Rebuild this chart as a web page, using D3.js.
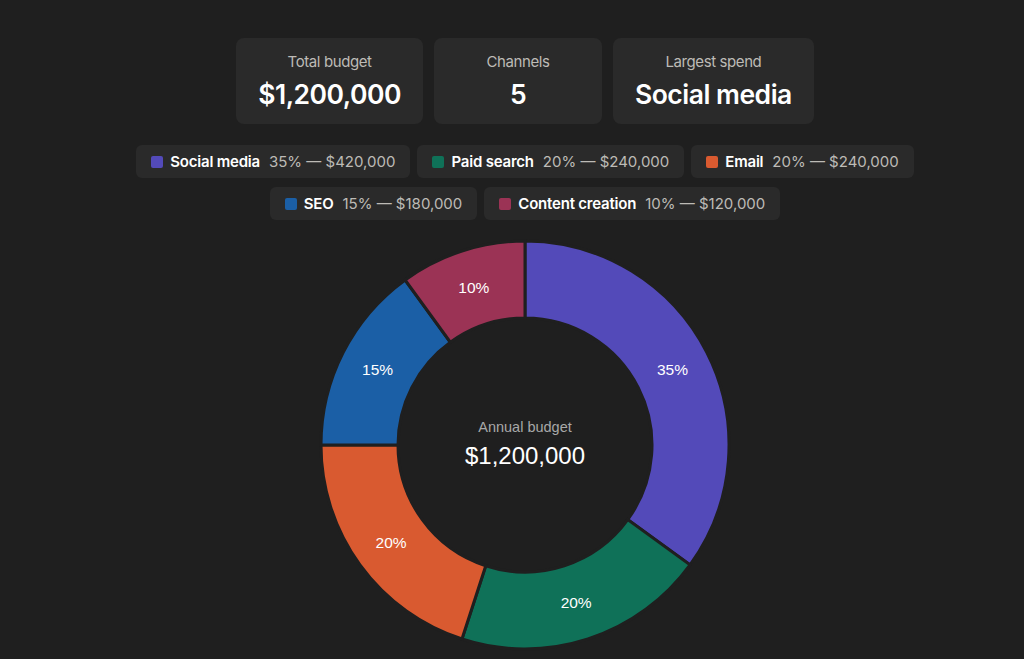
<!DOCTYPE html>
<html>
<head>
<meta charset="utf-8">
<script src="https://cdn.jsdelivr.net/npm/d3@7"></script>
<style>
  html, body { margin: 0; padding: 0; background: #1f1f1f; }
  body { width: 1024px; height: 659px; overflow: hidden; position: relative; font-family: Inter, "Noto Sans", sans-serif; }
  .cards { position: absolute; top: 38px; left: 0; width: 1050px; display: flex; justify-content: center; gap: 11px; }
  .card { background: #2a2a2a; border-radius: 8px; height: 86px; min-width: 168px; padding: 0 22px; box-sizing: border-box; text-align: center; }
  .card .lbl { color: #bdbbb6; font-size: 15px; margin-top: 15px; line-height: 18px; letter-spacing: -0.4px; }
  .card .val { color: #fff; font-size: 26.5px; font-weight: 600; margin-top: 7px; line-height: 32px; letter-spacing: -0.5px; }
  .legend { position: absolute; top: 145px; left: 0; width: 1050px; }
  .row { display: flex; justify-content: center; gap: 7px; margin-bottom: 9px; }
  .pill { background: #2a2a2a; border-radius: 6px; height: 33px; display: flex; align-items: center; padding: 0 15px; font-size: 15px; }
  .sw { width: 12px; height: 12px; border-radius: 2px; margin-right: 7px; }
  .nm { color: #fff; font-weight: 600; margin-right: 9px; letter-spacing: -0.2px; }
  .pv { color: #bdbbb6; }
  svg { position: absolute; top: 0; left: 0; }
</style>
</head>
<body>
<div class="cards"></div>
<div class="legend"></div>
<svg width="1024" height="659"></svg>
<script>
const channels = ['Social media', 'Paid search', 'Email', 'SEO', 'Content creation']
const amounts = [420000, 240000, 240000, 180000, 120000]
const colors = ['#534ab9', '#0f7158', '#d95a30', '#1b5fa6', '#9b3355']
const cardLabels = ['Total budget', 'Channels', 'Largest spend']

const total = d3.sum(amounts)
const money = d3.format('$,')
const pct = v => Math.round(v / total * 100) + '%'
const data = channels.map((name, i) => ({ name, amount: amounts[i], color: colors[i] }))
const largest = data[d3.maxIndex(amounts)].name

// summary cards
const cardValues = [money(total), String(channels.length), largest]
const cards = d3.select('.cards').selectAll('.card')
  .data(cardLabels.map((l, i) => ({ label: l, value: cardValues[i] })))
  .join('div')
  .attr('class', 'card')
cards.append('div').attr('class', 'lbl').text(d => d.label)
cards.append('div').attr('class', 'val').text(d => d.value)

// legend, 3 + 2
const rows = [data.slice(0, 3), data.slice(3)]
const rowSel = d3.select('.legend').selectAll('.row')
  .data(rows)
  .join('div')
  .attr('class', 'row')
const pills = rowSel.selectAll('.pill')
  .data(d => d)
  .join('div')
  .attr('class', 'pill')
pills.append('div').attr('class', 'sw').style('background', d => d.color)
pills.append('span').attr('class', 'nm').text(d => d.name)
pills.append('span').attr('class', 'pv').text(d => pct(d.amount) + ' \u2014 ' + money(d.amount))

// donut
const svg = d3.select('svg')
const cx = 525, cy = 445
const outerR = 204, innerR = 127

const pie = d3.pie().value(d => d.amount).sort(null)
const arc = d3.arc().innerRadius(innerR).outerRadius(outerR)
const labelArc = d3.arc().innerRadius((innerR + outerR) / 2).outerRadius((innerR + outerR) / 2)

const g = svg.append('g').attr('transform', `translate(${cx},${cy})`)

g.selectAll('path.slice')
  .data(pie(data))
  .join('path')
  .attr('class', 'slice')
  .attr('d', arc)
  .attr('fill', d => d.data.color)
  .attr('stroke', '#1f1f1f')
  .attr('stroke-width', 3)

g.selectAll('text.pct')
  .data(pie(data))
  .join('text')
  .attr('class', 'pct')
  .attr('transform', d => `translate(${labelArc.centroid(d)})`)
  .attr('text-anchor', 'middle')
  .attr('dy', '0.35em')
  .attr('font-family', '"Liberation Sans", Arial, sans-serif')
  .attr('font-size', 15.5)
  .attr('fill', '#fff')
  .text(d => pct(d.data.amount))

g.append('text')
  .attr('y', -13)
  .attr('text-anchor', 'middle')
  .attr('font-family', '"Liberation Sans", Arial, sans-serif')
  .attr('font-size', 14.5)
  .attr('fill', '#a8a8a8')
  .text('Annual budget')

g.append('text')
  .attr('y', 19)
  .attr('text-anchor', 'middle')
  .attr('font-family', '"Liberation Sans", Arial, sans-serif')
  .attr('font-size', 24)
  .attr('fill', '#fff')
  .text(money(total))
</script>
</body>
</html>
